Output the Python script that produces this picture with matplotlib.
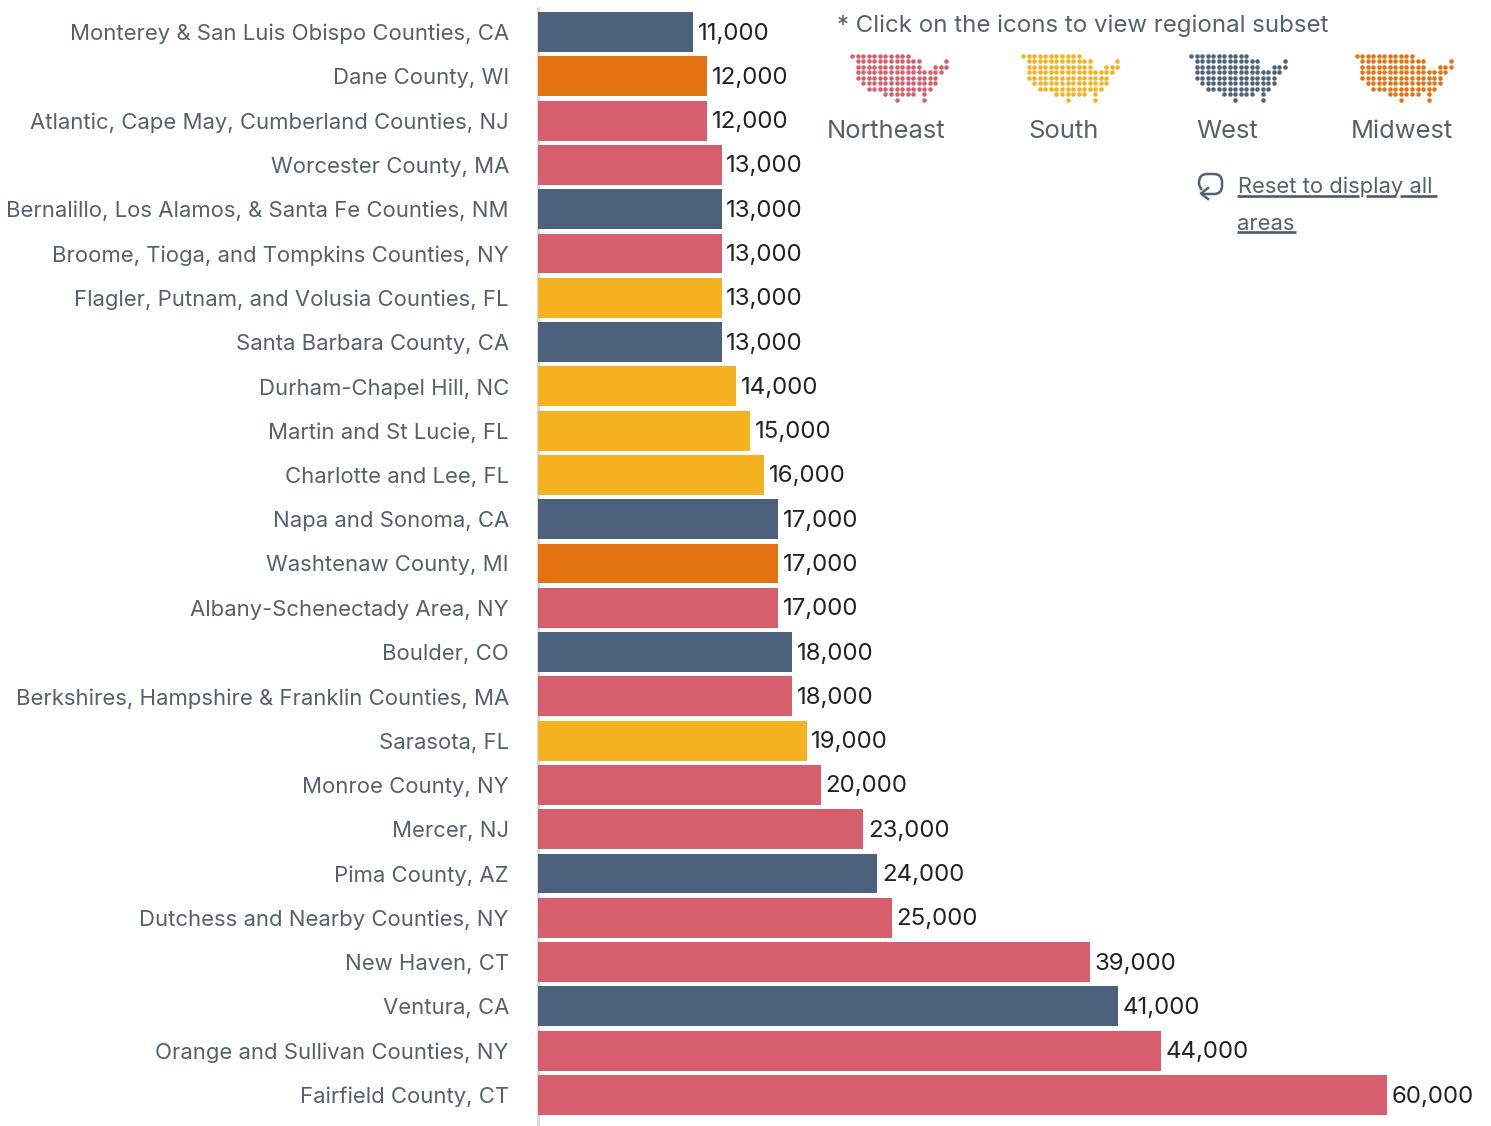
import matplotlib
matplotlib.use("Agg")
import matplotlib.pyplot as plt
from matplotlib.path import Path
from matplotlib.patches import PathPatch

areas = [
    "Monterey & San Luis Obispo Counties, CA", "Dane County, WI",
    "Atlantic, Cape May, Cumberland Counties, NJ", "Worcester County, MA",
    "Bernalillo, Los Alamos, & Santa Fe Counties, NM", "Broome, Tioga, and Tompkins Counties, NY",
    "Flagler, Putnam, and Volusia Counties, FL", "Santa Barbara County, CA",
    "Durham-Chapel Hill, NC", "Martin and St Lucie, FL", "Charlotte and Lee, FL",
    "Napa and Sonoma, CA", "Washtenaw County, MI", "Albany-Schenectady Area, NY",
    "Boulder, CO", "Berkshires, Hampshire & Franklin Counties, MA", "Sarasota, FL",
    "Monroe County, NY", "Mercer, NJ", "Pima County, AZ", "Dutchess and Nearby Counties, NY",
    "New Haven, CT", "Ventura, CA", "Orange and Sullivan Counties, NY", "Fairfield County, CT",
]
values = [11000, 12000, 12000, 13000, 13000, 13000, 13000, 13000, 14000, 15000, 16000, 17000,
          17000, 17000, 18000, 18000, 19000, 20000, 23000, 24000, 25000, 39000, 41000, 44000, 60000]
regions = ["West", "Midwest", "Northeast", "Northeast", "West", "Northeast", "South", "West",
           "South", "South", "South", "West", "Midwest", "Northeast", "West", "Northeast", "South",
           "Northeast", "Northeast", "West", "Northeast", "Northeast", "West", "Northeast", "Northeast"]
colors = {"Northeast": "#d75e6c", "South": "#f5b120", "West": "#4c617b", "Midwest": "#e37210"}

# dot map of the US, one string per row
us_map = [
    "###########.......",
    ".############....#",
    ".############..###",
    ".################.",
    ".###############..",
    "..##############..",
    "...############...",
    "......######.#....",
    "........#....#....",
]
# region, left dot x, label center x
icons = [("Northeast", 852.3, 886), ("South", 1023.3, 1063.5), ("West", 1191, 1227), ("Midwest", 1356.7, 1401.5)]

label_color = "#55606f"
FONT = "Inter"
plt.rcParams["font.family"] = [FONT, "DejaVu Sans"]

W, H = 1491, 1126
LEFT = 537.5
fig = plt.figure(figsize=(W / 100, H / 100), dpi=100)

ax = fig.add_axes([LEFT / W, 0, (W - LEFT) / W, 1])
ax.set_zorder(2)
y = list(range(len(areas)))
ax.barh(y, values, height=0.9, color=[colors[r] for r in regions])
ax.set_xlim(0, (W - LEFT) / 0.014165)
ax.set_ylim(24.7, -0.7225)
ax.axis("off")
for i, v in enumerate(values):
    ax.annotate(f"{v:,}", (v, i), xytext=(3.3, 0.7), textcoords="offset points", va="center_baseline",
                ha="left", fontsize=17.3, color="#222222")
    ax.annotate(areas[i], (0, i), xytext=(-20.6, 0), textcoords="offset points", va="center_baseline",
                ha="right", fontsize=15.9, color=label_color)

# overlay in pixel coordinates
ov = fig.add_axes([0, 0, 1, 1])
ov.set_zorder(1)
ov.set_xlim(0, W)
ov.set_ylim(H, 0)
ov.axis("off")
ov.plot([537.5, 537.5], [7, H], color="#d9d9de", lw=2.2, solid_capstyle="butt")

ov.text(837, 25.5, "* Click on the icons to view regional subset", fontsize=17.3, color=label_color,
        va="center", ha="left")
for name, x0, xc in icons:
    xs, ys = [], []
    for r, row in enumerate(us_map):
        for c, ch in enumerate(row):
            if ch == "#":
                xs.append(x0 + c * 5.53)
                ys.append(55.7 + r * 5.5)
    ov.scatter(xs, ys, s=10.5, color=colors[name], linewidths=0, snap=False)
    ov.text(xc, 131.5, name, fontsize=18.4, color=label_color, ha="center", va="center")

ov.text(1238, 186.5, "Reset to display all", fontsize=15.8, color=label_color, va="center", ha="left")
ov.text(1237, 223.5, "areas", fontsize=15.8, color=label_color, va="center", ha="left")
# underline skips the descenders
for x1, x2, yu in [(1237, 1359, 195.5), (1366, 1396, 195.5), (1400, 1437, 195.5), (1237, 1296, 232)]:
    ov.plot([x1, x2], [yu, yu], color="#4c5a6c", lw=1.9, solid_capstyle="butt")

# reset icon
loop = Path(
    [(1202, 190), (1199, 187), (1199, 183), (1199, 174), (1207, 174), (1214, 174),
     (1222, 174), (1222, 182), (1222, 186), (1222, 194), (1214, 194), (1203, 194)],
    [Path.MOVETO, Path.CURVE3, Path.LINETO, Path.CURVE3, Path.CURVE3, Path.LINETO,
     Path.CURVE3, Path.CURVE3, Path.LINETO, Path.CURVE3, Path.CURVE3, Path.LINETO],
)
ov.add_patch(PathPatch(loop, fill=False, edgecolor=label_color, lw=1.8))
ov.plot([1208, 1201, 1208], [188, 193.5, 199], color=label_color, lw=1.8)

fig.savefig("out.png", dpi=100)
